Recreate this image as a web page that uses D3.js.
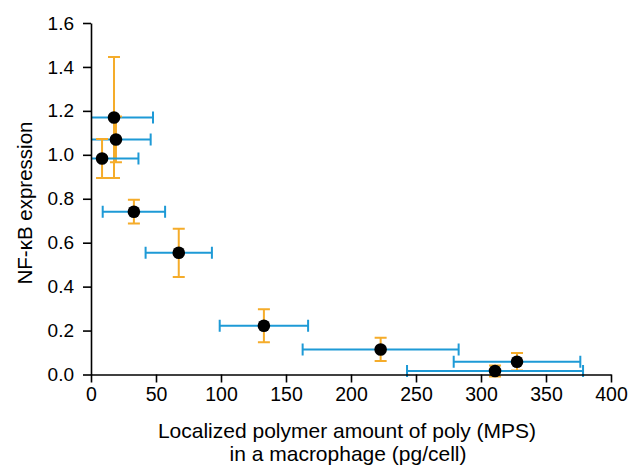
<!DOCTYPE html>
<html>
<head>
<meta charset="utf-8">
<script src="https://cdn.jsdelivr.net/npm/d3@7"></script>
<style>
  body { margin: 0; background: #fff; }
  svg { display: block; font-family: "Liberation Sans", Arial, sans-serif; }
</style>
</head>
<body>
<script>
// values
var amount    = [17.7, 19.2, 8.5, 33, 67.5, 133, 222.8, 327.7, 310.8];
var amountErr = [30, 26.7, 28, 24, 25.5, 34, 60, 48.7, 67.7];
var nfkb      = [1.17, 1.07, 0.983, 0.741, 0.554, 0.222, 0.114, 0.058, 0.016];
var nfkbErr   = [0.275, 0.104, 0.089, 0.054, 0.11, 0.075, 0.053, 0.04, 0.025];
var xTicks = [0, 50, 100, 150, 200, 250, 300, 350, 400];
var yTicks = [0, 0.2, 0.4, 0.6, 0.8, 1.0, 1.2, 1.4, 1.6];

var width = 629, height = 466;
var margin = {left: 91, right: 18, top: 23, bottom: 91.5};

var data = amount.map((d, i) => ({x: d, xe: amountErr[i], y: nfkb[i], ye: nfkbErr[i]}));

var svg = d3.select("body").append("svg")
    .attr("width", width)
    .attr("height", height);

var x = d3.scaleLinear().domain([0, 400]).range([margin.left, width - margin.right]);
var y = d3.scaleLinear().domain([0, 1.6]).range([height - margin.bottom, margin.top]);

var blue = "#1e9ad6", orange = "#f5ac2a";

svg.append("defs").append("clipPath")
    .attr("id", "plot")
  .append("rect")
    .attr("x", x(0))
    .attr("y", 0)
    .attr("width", x(400) - x(0) + 10)
    .attr("height", height);

var bars = svg.append("g").attr("clip-path", "url(#plot)")
    .attr("stroke-width", 2)
    .attr("fill", "none");

var g = bars.selectAll("g")
  .data(data)
  .join("g");

// horizontal error bars
g.append("path")
    .attr("stroke", blue)
    .attr("d", d => {
      var x0 = x(d.x - d.xe), x1 = x(d.x + d.xe), yy = y(d.y);
      return `M${x0},${yy}H${x1}M${x0},${yy - 6}V${yy + 6}M${x1},${yy - 6}V${yy + 6}`;
    });

// vertical error bars
g.append("path")
    .attr("stroke", orange)
    .attr("d", d => {
      var y0 = y(d.y - d.ye), y1 = y(d.y + d.ye), xx = x(d.x);
      return `M${xx},${y0}V${y1}M${xx - 6},${y0}H${xx + 6}M${xx - 6},${y1}H${xx + 6}`;
    });

svg.append("g")
  .selectAll("circle")
  .data(data)
  .join("circle")
    .attr("cx", d => x(d.x))
    .attr("cy", d => y(d.y))
    .attr("r", 6.3)
    .attr("fill", "#000");

// axes
var xAxis = svg.append("g")
    .attr("transform", `translate(0,${y(0)})`)
    .call(d3.axisBottom(x).tickValues(xTicks).tickSize(8).tickSizeOuter(0).tickPadding(5));

var yAxis = svg.append("g")
    .attr("transform", `translate(${x(0)},0)`)
    .call(d3.axisLeft(y).tickValues(yTicks).tickSize(8).tickSizeOuter(0).tickPadding(9)
      .tickFormat(d3.format(".1f")));

[xAxis, yAxis].forEach(a => {
  a.selectAll("path, line").attr("stroke", "#000").attr("stroke-width", 1.6);
  a.selectAll("text").attr("fill", "#000").attr("font-family", "Liberation Sans, Arial, sans-serif");
});
xAxis.selectAll("text").attr("font-size", 19.5);
yAxis.selectAll("text").attr("font-size", 19);

// titles
svg.append("text")
    .attr("x", 347)
    .attr("y", 438)
    .attr("text-anchor", "middle")
    .attr("font-size", 21)
    .text("Localized polymer amount of poly (MPS)");

svg.append("text")
    .attr("x", 348)
    .attr("y", 461)
    .attr("text-anchor", "middle")
    .attr("font-size", 21)
    .text("in a macrophage (pg/cell)");

svg.append("text")
    .attr("transform", "translate(32,203) rotate(-90)")
    .attr("text-anchor", "middle")
    .attr("font-size", 20.5)
    .text("NF-κB expression");
</script>
</body>
</html>
